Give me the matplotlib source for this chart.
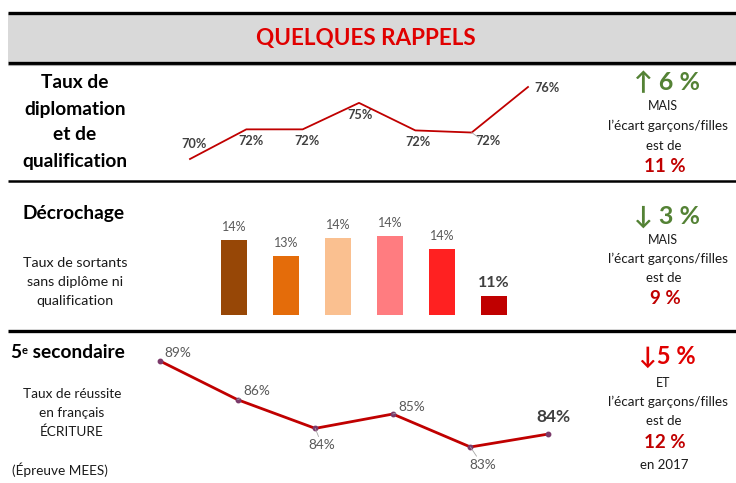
import matplotlib
matplotlib.use("Agg")
import matplotlib.pyplot as plt
from matplotlib.patches import Rectangle

plt.rcParams['font.family'] = ['Lato', 'DejaVu Sans']

# ---------------- data ----------------
diplo_labels = ['70%', '72%', '72%', '75%', '72%', '72%', '76%']
diplo_values = [69.2, 72.0, 72.0, 74.5, 71.9, 71.7, 76.0]

decro_labels = ['14%', '13%', '14%', '14%', '14%', '11%']
decro_values = [14.2, 13.3, 14.3, 14.4, 13.7, 11.1]
decro_colors = ['#974706', '#E46C0A', '#FAC090', '#FF7C80', '#FF2121', '#C00000']

ecrit_labels = ['89%', '86%', '84%', '85%', '83%', '84%']
ecrit_values = [89.0, 86.3, 84.3, 85.3, 83.0, 83.9]

W, H = 736, 483
fig = plt.figure(figsize=(W / 100, H / 100), dpi=100)
fig.patch.set_facecolor('white')

bg = fig.add_axes([0, 0, 1, 1])
bg.set_xlim(0, W)
bg.set_ylim(H, 0)
bg.axis('off')


def px_axes(x0, y0, x1, y1):
    ax = fig.add_axes([x0 / W, 1 - y1 / H, (x1 - x0) / W, (y1 - y0) / H])
    ax.axis('off')
    return ax


# ---------------- frame ----------------
bg.add_patch(Rectangle((8, 13), W - 8, 49, facecolor='#D9D9D9', edgecolor='none'))
bg.plot([8, W], [12.5, 12.5], color='black', lw=2.4, solid_capstyle='butt')
bg.plot([8, W], [62.5, 62.5], color='black', lw=2.4, solid_capstyle='butt')
bg.plot([8, W], [65, 65], color='#A6A6A6', lw=0.8, solid_capstyle='butt')
bg.plot([8, W], [181, 181], color='black', lw=1.8, solid_capstyle='butt')
bg.plot([8, W], [331, 331], color='black', lw=2.4, solid_capstyle='butt')

bg.text(366, 38, 'QUELQUES RAPPELS', color='#E00000', fontsize=16.2,
        fontweight='bold', ha='center', va='center')

GREEN = '#548235'
DRED = '#C00000'
RED = '#E00000'
TXT = '#1a1a1a'

# ---------------- section 1 ----------------
for y, s in zip([83, 109, 135, 161], ['Taux de', 'diplomation', 'et de', 'qualification']):
    bg.text(75, y, s, fontsize=13.8, fontweight='bold', ha='center', va='center', color='black')

ax1 = px_axes(190, 87, 528, 159)
ax1.set_xlim(0, len(diplo_values) - 1)
ax1.set_ylim(diplo_values[0], max(diplo_values))
ax1.plot(range(len(diplo_values)), diplo_values, color=DRED, lw=1.3, clip_on=False)
offs1 = [(4, 15), (5, -12), (4, -12), (1, -12), (3, -12), (16, -8), (19, -1)]
for i, (v, lab, o) in enumerate(zip(diplo_values, diplo_labels, offs1)):
    ax1.annotate(lab, (i, v), xytext=o, textcoords='offset pixels', ha='center',
                 va='center', fontsize=9.2, fontweight='bold', color='#404040',
                 annotation_clip=False)
ax1.annotate('', (5, diplo_values[5]), xytext=(7, -5), textcoords='offset pixels',
             arrowprops=dict(arrowstyle='-', color='#A6A6A6', lw=0.6, shrinkA=0, shrinkB=0),
             annotation_clip=False)

bg.text(667, 83, '↑ 6 %', color=GREEN, fontsize=18, fontweight='bold', ha='center', va='center')
bg.text(663, 106, 'MAIS', fontsize=9, ha='center', va='center', color=TXT)
bg.text(668, 126, 'l’écart garçons/filles', fontsize=9.7, ha='center', va='center', color=TXT)
bg.text(664, 146, 'est de', fontsize=9.5, ha='center', va='center', color=TXT)
bg.text(665, 167, '11 %', color=DRED, fontsize=13.5, fontweight='bold', ha='center', va='center')

# ---------------- section 2 ----------------
bg.text(74, 213, 'Décrochage', fontsize=13.8, fontweight='bold', ha='center', va='center', color='black')
for y, s in zip([263, 282, 301], ['Taux de sortants', 'sans diplôme ni', 'qualification']):
    bg.text(75, y, s, fontsize=10.3, ha='center', va='center', color=TXT)

ax2 = px_axes(234, 236, 494, 315)
ax2.set_xlim(0, len(decro_values) - 1)
ax2.set_ylim(10.06, max(decro_values))
xs = list(range(len(decro_values)))
ax2.bar(xs, [v - 10.06 for v in decro_values], bottom=10.06, width=0.5,
        color=decro_colors, clip_on=False)
for i, (v, lab) in enumerate(zip(decro_values, decro_labels)):
    last = i == len(decro_values) - 1
    ax2.annotate(lab, (i, v), xytext=(0, 13), textcoords='offset pixels', ha='center',
                 va='center', fontsize=11.5 if last else 9,
                 fontweight='bold' if last else 'normal',
                 color='#404040' if last else '#595959', annotation_clip=False)

bg.text(667, 216, '↓ 3 %', color=GREEN, fontsize=18, fontweight='bold', ha='center', va='center')
bg.text(663, 240, 'MAIS', fontsize=9, ha='center', va='center', color=TXT)
bg.text(668, 259, 'l’écart garçons/filles', fontsize=9.7, ha='center', va='center', color=TXT)
bg.text(664, 278, 'est de', fontsize=9.5, ha='center', va='center', color=TXT)
bg.text(665, 299, '9 %', color=DRED, fontsize=13.5, fontweight='bold', ha='center', va='center')

# ---------------- section 3 ----------------
t5 = bg.text(10, 358, '5', fontsize=13.8, fontweight='bold', ha='left', va='baseline', color='black')
te = bg.annotate('e', xy=(1, 1), xycoords=t5, xytext=(1, -1), textcoords='offset pixels',
                 fontsize=8, fontweight='bold', ha='left', va='top', color='black')
bg.annotate(' secondaire', xy=(1, 0), xycoords=(te, t5), fontsize=13.8, fontweight='bold',
            ha='left', va='bottom', color='black')
for y, s in zip([394, 413, 432], ['Taux de réussite', 'en français', 'ÉCRITURE']):
    bg.text(72, y, s, fontsize=9.8, ha='center', va='center', color=TXT)
bg.text(12, 470, '(Épreuve MEES)', fontsize=9.8, ha='left', va='center', color=TXT)

ax3 = px_axes(160, 361, 548, 447)
ax3.set_xlim(0, len(ecrit_values) - 1)
ax3.set_ylim(min(ecrit_values), max(ecrit_values))
ax3.plot(range(len(ecrit_values)), ecrit_values, color=DRED, lw=2.0, marker='o',
         markersize=3.2, markerfacecolor='#7B3A6A', markeredgecolor='#7B3A6A', clip_on=False)
offs3 = [(18, 8), (19, 9), (7, -17), (19, 7), (12, -18), (5, 17)]
lead3 = [False, True, True, True, True, False]
for i, (v, lab, o, ld) in enumerate(zip(ecrit_values, ecrit_labels, offs3, lead3)):
    last = i == len(ecrit_values) - 1
    ax3.annotate(lab, (i, v), xytext=o, textcoords='offset pixels', ha='center',
                 va='center', fontsize=12.5 if last else 9.8,
                 fontweight='bold' if last else 'normal',
                 color='#404040' if last else '#595959', annotation_clip=False,
                 arrowprops=dict(arrowstyle='-', color='#A6A6A6', lw=0.6, shrinkA=8,
                                 shrinkB=0) if ld else None)

bg.text(667, 357, '↓5 %', color=RED, fontsize=17, fontweight='bold', ha='center', va='center')
bg.text(663, 383, 'ET', fontsize=9, ha='center', va='center', color=TXT)
bg.text(668, 402, 'l’écart garçons/filles', fontsize=9.7, ha='center', va='center', color=TXT)
bg.text(664, 421, 'est de', fontsize=9.5, ha='center', va='center', color=TXT)
bg.text(665, 443, '12 %', color=DRED, fontsize=13.5, fontweight='bold', ha='center', va='center')
bg.text(664, 465, 'en 2017', fontsize=9.5, ha='center', va='center', color=TXT)

fig.savefig('out.png', dpi=100)
